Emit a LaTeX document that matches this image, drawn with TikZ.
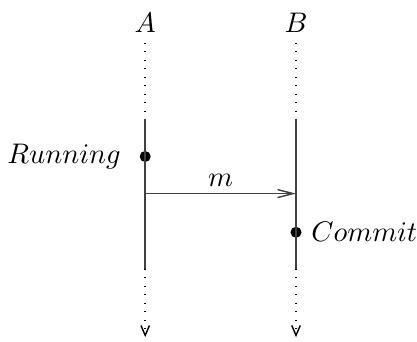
\documentclass[tikz,border=0pt]{standalone}
\usepackage{tikz}
\usetikzlibrary{arrows.meta, positioning}
\begin{document}
\begin{tikzpicture}[
    % process lifeline pieces
    idle/.style={line width=0.5pt, dash pattern=on 0.4pt off 2.6pt},
    active/.style={line width=0.5pt, draw=black!75},
    event/.style={circle, fill=black, inner sep=0pt, minimum size=3.9pt},
    evlbl/.style={inner sep=1pt},
    msg/.style={-{Straight Barb[length=5.5pt, width=2.8pt]}, line width=0.5pt, draw=black!75},
    endtip/.style={-{Straight Barb[length=3.5pt, width=3pt]}}
]
\useasboundingbox (0,0) rectangle (5.17,4.23);
% ── process heads ─────────────────────────────────────────────
\node (A) at (1.80, 3.95) {$A$};
\node (B) at (3.67, 3.95) {$B$};
% ── lifeline points ───────────────────────────────────────────
\coordinate (a0) at (1.80, 3.70);
\coordinate (a1) at (1.80, 2.76);
\coordinate (a2) at (1.80, 0.90);
\coordinate (a3) at (1.80, 0.05);
\coordinate (b0) at (3.67, 3.70);
\coordinate (b1) at (3.67, 2.76);
\coordinate (b2) at (3.67, 0.90);
\coordinate (b3) at (3.67, 0.05);
% ── events ────────────────────────────────────────────────────
\node[event] (run) at (1.80, 2.29) {};
\node[event] (com) at (3.67, 1.35) {};
\node[evlbl, left=5.3pt of run]  (runlbl) {$Running$};
\node[evlbl, right=2.1pt of com] (comlbl) {$Commit$};
\coordinate (snd) at (1.80, 1.83);
\coordinate (rcv) at (3.67, 1.83);
% ── lifelines ─────────────────────────────────────────────────
\draw[idle] (a0) -- (a1);
\draw[active] (a1) -- (a2);
\draw[idle, endtip] (a2) -- (a3);
\draw[idle] (b0) -- (b1);
\draw[active] (b1) -- (b2);
\draw[idle, endtip] (b2) -- (b3);
% ── message ───────────────────────────────────────────────────
\draw[msg] (snd) -- node[above=-1pt] {$m$} (rcv);
\end{tikzpicture}
\end{document}
